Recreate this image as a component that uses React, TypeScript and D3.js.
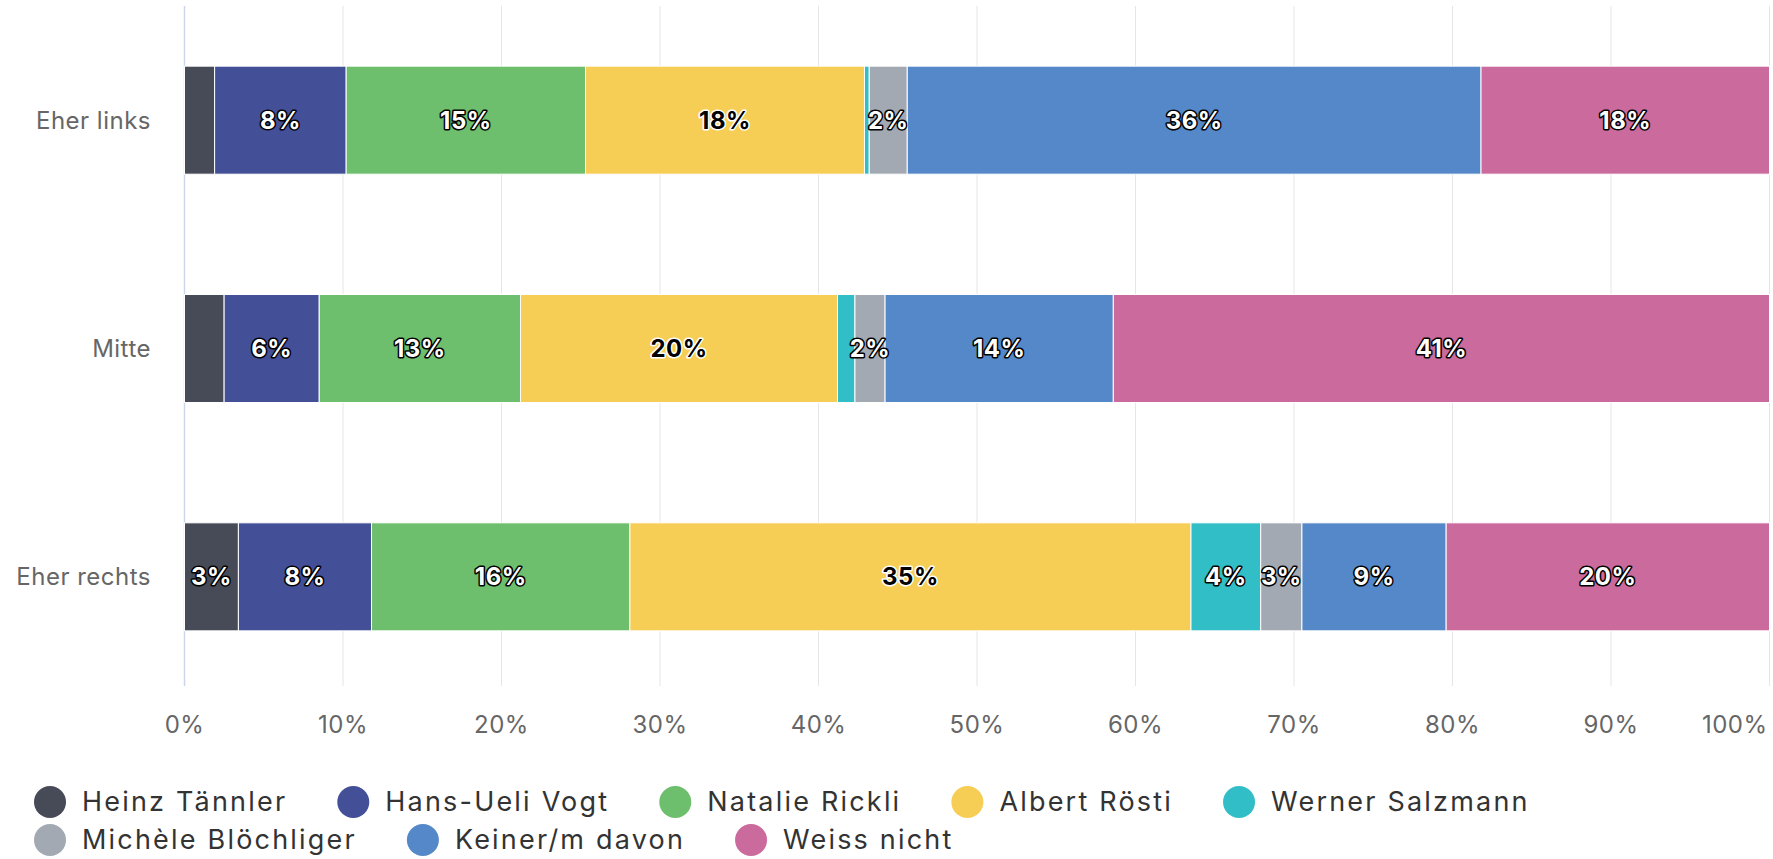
import React, { useRef, useEffect } from 'react';
import * as d3 from 'd3';

const categories = ['Eher links', 'Mitte', 'Eher rechts'];

const seriesNames = [
  'Heinz Tännler',
  'Hans-Ueli Vogt',
  'Natalie Rickli',
  'Albert Rösti',
  'Werner Salzmann',
  'Michèle Blöchliger',
  'Keiner/m davon',
  'Weiss nicht',
];

const seriesColors = ['#474a57', '#434f97', '#6dbe6d', '#f6cd55', '#31bec7', '#a3a9b3', '#5488c8', '#cb6a9c'];

// values per series, one per category (percent)
const heinzTaennler = [1.9, 2.5, 3.4];
const hansUeliVogt = [8.3, 6.0, 8.4];
const natalieRickli = [15.1, 12.7, 16.3];
const albertRoesti = [17.6, 20.0, 35.4];
const wernerSalzmann = [0.3, 1.1, 4.4];
const micheleBloechliger = [2.4, 1.9, 2.6];
const keinerDavon = [36.2, 14.4, 9.1];
const weissNicht = [18.2, 41.4, 20.4];

const seriesValues = [
  heinzTaennler, hansUeliVogt, natalieRickli, albertRoesti,
  wernerSalzmann, micheleBloechliger, keinerDavon, weissNicht,
];

// labels that the chart leaves out (category index : series index)
const hiddenLabels = new Set(['0:0', '0:4', '1:0', '1:4']);

const xTicks = [0, 10, 20, 30, 40, 50, 60, 70, 80, 90, 100];

const W = 1773;
const H = 859;
const FONT = 'Inter, "Noto Sans", sans-serif';

const App: React.FC = () => {
  const svgRef = useRef<SVGSVGElement>(null);

  useEffect(() => {
    if (!svgRef.current) return;
    const svg = d3.select(svgRef.current);
    svg.selectAll('*').remove();

    const x = d3.scaleLinear().domain([0, 100]).range([184.5, 1769.5]);
    const y = d3.scaleBand<string>()
      .domain(categories)
      .range([6, 691])
      .paddingInner(0.527)
      .paddingOuter(0.2635);

    const rows = categories.map((c, i) => {
      const row: any = { category: c };
      seriesNames.forEach((s, j) => { row[s] = seriesValues[j][i]; });
      return row;
    });
    const stacked = d3.stack<any>().keys(seriesNames)(rows);

    // grid
    svg.append('g')
      .selectAll('line')
      .data(xTicks.slice(1))
      .join('line')
      .attr('x1', d => x(d)).attr('x2', d => x(d))
      .attr('y1', 6).attr('y2', 686)
      .attr('stroke', '#e6e6e6')
      .attr('stroke-width', 1);

    svg.append('line')
      .attr('x1', x(0)).attr('x2', x(0))
      .attr('y1', 6).attr('y2', 686)
      .attr('stroke', '#ccd6eb')
      .attr('stroke-width', 1.5);

    // bars
    const layers = svg.append('g')
      .selectAll('g')
      .data(stacked)
      .join('g')
      .attr('fill', (_, i) => seriesColors[i]);

    layers.selectAll('rect')
      .data(d => d.map(p => p))
      .join('rect')
      .attr('x', d => x(d[0]))
      .attr('y', d => y(d.data.category)!)
      .attr('width', d => Math.max(0, x(d[1]) - x(d[0])))
      .attr('height', y.bandwidth())
      .attr('stroke', '#ffffff')
      .attr('stroke-width', 1);

    // data labels
    const lum = (c: string) => {
      const rgb = d3.rgb(c);
      const f = (v: number) => {
        const s = v / 255;
        return s <= 0.03928 ? s / 12.92 : Math.pow((s + 0.055) / 1.055, 2.4);
      };
      return 0.2126 * f(rgb.r) + 0.7152 * f(rgb.g) + 0.0722 * f(rgb.b);
    };

    const labelG = svg.append('g');
    stacked.forEach((layer, si) => {
      const dark = lum(seriesColors[si]) > 0.5;
      layer.forEach((p, ci) => {
        if (hiddenLabels.has(`${ci}:${si}`)) return;
        labelG.append('text')
          .attr('x', (x(p[0]) + x(p[1])) / 2)
          .attr('y', y(p.data.category)! + y.bandwidth() / 2)
          .attr('dy', '0.35em')
          .attr('text-anchor', 'middle')
          .attr('font-family', FONT)
          .attr('font-size', 24)
          .attr('font-weight', 700)
          .attr('letter-spacing', 0.5)
          .attr('fill', dark ? '#000000' : '#ffffff')
          .attr('stroke', dark ? '#ffffff' : '#000000')
          .attr('stroke-width', 3)
          .attr('stroke-linejoin', 'round')
          .attr('paint-order', 'stroke')
          .text(`${Math.round(p[1] - p[0])}%`);
      });
    });

    // category axis
    svg.append('g')
      .selectAll('text')
      .data(categories)
      .join('text')
      .attr('x', 151)
      .attr('y', d => y(d)! + y.bandwidth() / 2)
      .attr('dy', '0.35em')
      .attr('text-anchor', 'end')
      .attr('font-family', FONT)
      .attr('font-size', 24)
      .attr('letter-spacing', 0.5)
      .attr('fill', '#666666')
      .text(d => d);

    // value axis
    svg.append('g')
      .selectAll('text')
      .data(xTicks)
      .join('text')
      .attr('x', d => (d === 100 ? x(d) - 2 : x(d)))
      .attr('y', 725)
      .attr('dy', '0.35em')
      .attr('text-anchor', d => (d === 100 ? 'end' : 'middle'))
      .attr('font-family', FONT)
      .attr('font-size', 24)
      .attr('letter-spacing', 0.5)
      .attr('fill', '#666666')
      .text(d => `${d}%`);

    // legend
    const legend = svg.append('g');
    const left = 34;
    const rowYs = [802, 840];
    let cx = left;
    let row = 0;
    seriesNames.forEach((name, i) => {
      const item = legend.append('g');
      item.append('circle')
        .attr('cx', 16).attr('cy', 0).attr('r', 16)
        .attr('fill', seriesColors[i]);
      const t = item.append('text')
        .attr('x', 48)
        .attr('dy', '0.35em')
        .attr('font-family', FONT)
        .attr('font-size', 27)
        .attr('letter-spacing', 2.2)
        .attr('fill', '#333333')
        .text(name);
      const tw = (t.node() as SVGTextElement).getComputedTextLength();
      const itemW = 48 + tw + 50;
      if (cx + itemW > 1620 && cx > left) {
        row += 1;
        cx = left;
      }
      item.attr('transform', `translate(${cx},${rowYs[row]})`);
      cx += itemW;
    });
  }, []);

  return (
    <svg
      ref={svgRef}
      width={W}
      height={H}
      style={{ position: 'absolute', left: 0, top: 0, background: '#ffffff' }}
    />
  );
};

export default App;
